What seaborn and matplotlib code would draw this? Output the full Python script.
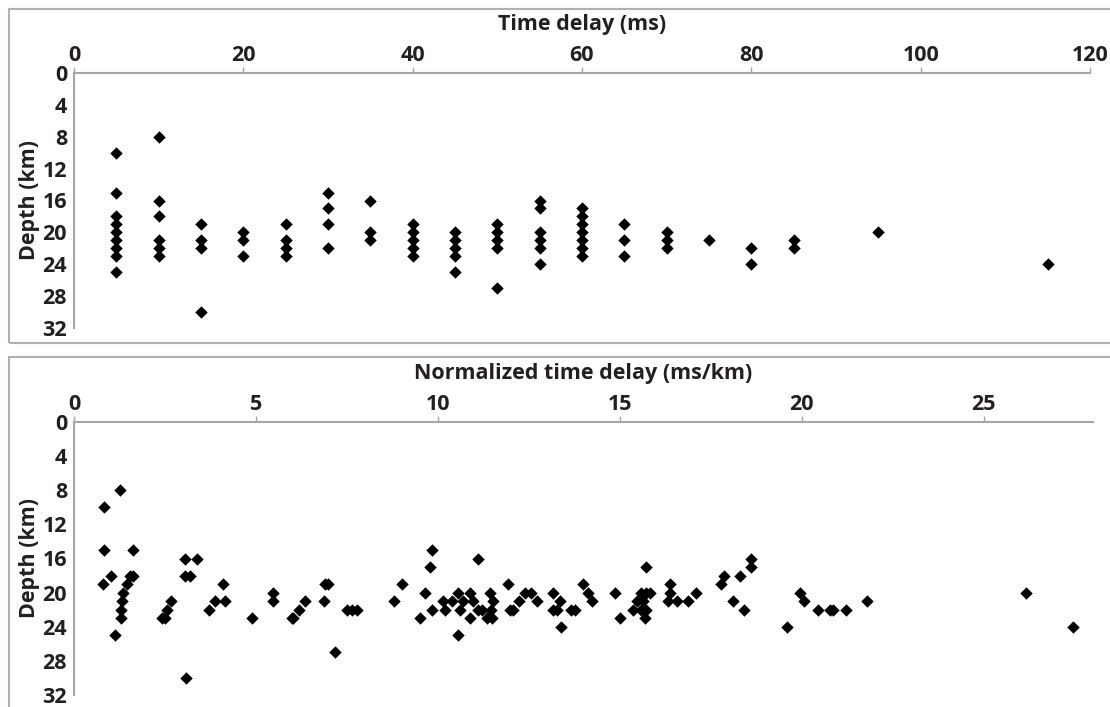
import pandas as pd
import numpy as np
import matplotlib.pyplot as plt
import seaborn as sns
from matplotlib.patches import Rectangle

# =========================
# data
# =========================
delay_ms = [5, 5, 5, 5, 5, 5, 5, 5, 5,
            10, 10, 10, 10, 10, 10,
            15, 15, 15, 15,
            20, 20, 20,
            25, 25, 25, 25,
            30, 30, 30, 30,
            35, 35, 35,
            40, 40, 40, 40, 40,
            45, 45, 45, 45, 45,
            50, 50, 50, 50, 50,
            55, 55, 55, 55, 55, 55,
            60, 60, 60, 60, 60, 60, 60,
            65, 65, 65,
            70, 70, 70,
            75,
            80, 80,
            85, 85,
            95,
            115]
depth_top = [10, 15, 18, 19, 20, 21, 22, 23, 25,
             8, 16, 18, 21, 22, 23,
             19, 21, 22, 30,
             20, 21, 23,
             19, 21, 22, 23,
             15, 17, 19, 22,
             16, 20, 21,
             19, 20, 21, 22, 23,
             20, 21, 22, 23, 25,
             19, 20, 21, 22, 27,
             16, 17, 20, 21, 22, 24,
             17, 18, 19, 20, 21, 22, 23,
             19, 21, 23,
             20, 21, 22,
             21,
             22, 24,
             21, 22,
             20,
             24]

norm_delay = [0.82, 1.26, 0.82, 1.63, 0.81, 1.03, 1.54, 1.61, 1.47, 1.35, 1.31, 1.28, 1.28, 1.13,
              3.05, 3.37, 3.05, 3.19, 2.66, 2.56, 2.41, 2.50, 3.07,
              4.10, 3.87, 4.15, 3.71, 4.90, 5.48, 5.48,
              5.98, 6.03, 6.18, 6.36, 6.87, 6.90, 6.99, 7.17, 7.49, 7.63, 7.77,
              8.80, 9.00, 9.51, 9.64, 9.84, 9.78, 9.83,
              10.13, 10.19, 10.38, 10.56, 10.88, 10.70, 10.62, 10.97, 10.88, 10.56, 11.09,
              11.11, 11.20, 11.43, 11.52, 11.46, 11.34, 11.48,
              11.93, 11.98, 12.07, 12.23, 12.39, 12.57, 12.73,
              13.17, 13.35, 13.15, 13.26, 13.37, 13.67, 13.76, 13.98, 14.13, 14.22,
              14.86, 15.00, 15.37, 15.46, 15.59, 15.59, 15.71, 15.82, 15.71, 15.64, 15.71, 15.69,
              16.39, 16.39, 16.33, 16.56, 16.88, 17.10,
              17.79, 17.86, 18.30, 18.11, 18.41, 18.59, 18.59,
              19.60, 19.95, 20.06, 20.45, 20.77, 20.86, 21.21, 21.80, 26.17, 27.45]
depth_bot = [10, 8, 15, 15, 19, 18, 18, 18, 19, 20, 21, 22, 23, 25,
             16, 16, 18, 18, 21, 22, 23, 23, 30,
             19, 21, 21, 22, 23, 20, 21,
             23, 23, 22, 21, 21, 19, 19, 27, 22, 22, 22,
             21, 19, 23, 20, 15, 17, 22,
             21, 22, 21, 20, 20, 21, 22, 21, 23, 25, 16,
             22, 22, 20, 21, 22, 23, 23,
             19, 22, 22, 21, 20, 20, 21,
             20, 21, 22, 22, 24, 22, 22, 19, 20, 21,
             20, 23, 22, 21, 22, 20, 20, 20, 17, 21, 22, 23,
             19, 20, 21, 21, 21, 20,
             19, 18, 18, 21, 22, 16, 17,
             24, 20, 21, 22, 22, 22, 22, 21, 20, 24]

depth_ticks = [0, 4, 8, 12, 16, 20, 24, 28, 32]
top_ticks = [0, 20, 40, 60, 80, 100, 120]
bot_ticks = [0, 5, 10, 15, 20, 25]

df_top = pd.DataFrame({"delay": delay_ms, "depth": depth_top})
df_bot = pd.DataFrame({"delay": norm_delay, "depth": depth_bot})

# =========================
# style
# =========================
sns.set_theme(style="white")
plt.rcParams["font.family"] = ["Open Sans", "DejaVu Sans"]
plt.rcParams["font.weight"] = "bold"

TXT = "#231f20"
AX = "#a6a6a6"

W, H = 1110, 707
fig = plt.figure(figsize=(W / 100, H / 100), dpi=100)

# panel frames
fig.patches.append(Rectangle((9 / W, 1 - 343 / H), 1.2, 334 / H, transform=fig.transFigure,
                             fill=False, edgecolor="#b0b0b0", linewidth=1.5))
fig.patches.append(Rectangle((9 / W, -0.1), 1.2, 0.1 + (H - 357) / H, transform=fig.transFigure,
                             fill=False, edgecolor="#b0b0b0", linewidth=1.5))

ax1 = fig.add_axes([74 / W, 1 - 328 / H, 1016 / W, 255 / H])
ax2 = fig.add_axes([74 / W, 1 - 695 / H, 1019 / W, 273 / H])


def style_axis(ax, df, xticks, xlim, xlabel):
    sns.scatterplot(data=df, x="delay", y="depth", ax=ax, marker="D", s=40,
                    color="black", edgecolor="black", linewidth=0, clip_on=False)
    ax.set_xlim(*xlim)
    ax.set_ylim(32, 0)
    ax.set_xticks(xticks)
    ax.set_yticks(depth_ticks)
    ax.xaxis.tick_top()
    ax.xaxis.set_label_position("top")
    for s in ["right", "bottom"]:
        ax.spines[s].set_visible(False)
    for s in ["top", "left"]:
        ax.spines[s].set_color(AX)
        ax.spines[s].set_linewidth(1.5)
    ax.tick_params(axis="both", which="major", direction="out", length=4, width=1,
                   color=AX, labelsize=15.5, labelcolor=TXT, pad=1)
    for lab in ax.get_xticklabels() + ax.get_yticklabels():
        lab.set_fontweight("bold")
    ax.set_xlabel(xlabel, fontsize=15.5, fontweight="bold", color=TXT, labelpad=11)
    ax.set_ylabel("Depth (km)", fontsize=15.5, fontweight="bold", color=TXT, labelpad=2)
    ax.grid(False)
    ax.set_facecolor("none")


style_axis(ax1, df_top, top_ticks, (0, 120), "Time delay (ms)")
style_axis(ax2, df_bot, bot_ticks, (0, 28), "Normalized time delay (ms/km)")

plt.savefig("out.png", dpi=100)
